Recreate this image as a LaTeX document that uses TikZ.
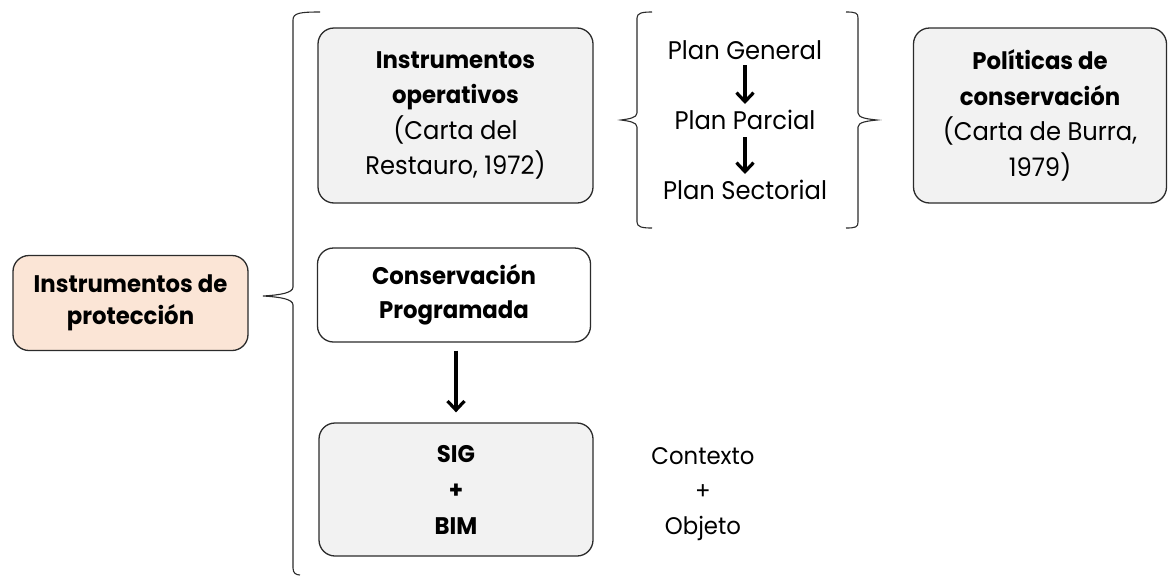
\documentclass[tikz,border=0pt]{standalone}
\usepackage{fontspec}
\setmainfont{Poppins}[FakeStretch=0.95]
\usetikzlibrary{arrows.meta}
\definecolor{edge}{HTML}{2B2B2B}
\definecolor{peach}{HTML}{FBE5D6}
\definecolor{lgray}{HTML}{F2F2F2}
\tikzset{
  box/.style={draw=edge, line width=1.3pt, rounded corners=16pt, align=center, inner sep=0pt, text=black},
  bigtxt/.style={font=\fontsize{24}{35.5}\selectfont},
  plantxt/.style={font=\fontsize{25.5}{28}\selectfont, inner sep=0pt},
  brace/.style={draw=edge, line width=1.1pt},
  flowarrow/.style={draw=black, line width=3.4pt, -{Straight Barb[length=9pt,width=17pt,line width=3.2pt]}},
}
\newcommand{\reg}[1]{{\fontsize{25.5}{35.5}\selectfont #1}}
\begin{document}
\begin{tikzpicture}[x=1pt,y=-1pt]
\useasboundingbox (0,0) rectangle (1171,576);
% boxes
\node[box, fill=peach, minimum width=235pt, minimum height=95pt, font=\fontsize{24}{32}\selectfont\bfseries] (prot) at (130.5,303) {Instrumentos de\\protección};
\node[box, fill=lgray, minimum width=275pt, minimum height=175pt, bigtxt] (oper) at (455.5,115.5) {\textbf{Instrumentos}\\\textbf{operativos}\\\reg{(Carta del}\\\reg{Restauro, 1972)}};
\node[box, fill=lgray, minimum width=253pt, minimum height=175pt, bigtxt] (polit) at (1040,115.5) {\textbf{Políticas de}\\\textbf{conservación}\\\reg{(Carta de Burra,}\\\reg{1979)}};
\node[box, fill=white, minimum width=273pt, minimum height=94pt, font=\fontsize{24}{34}\selectfont\bfseries] (cons) at (454,295) {Conservación\\Programada};
\node[box, fill=lgray, minimum width=274pt, minimum height=133pt, font=\fontsize{24}{36}\selectfont\bfseries] (sigbim) at (456,489.5) {SIG\\+\\BIM};
\node[align=center, font=\fontsize{24}{35}\selectfont, inner sep=0pt] (ctx) at (703,494) {Contexto\\+\\Objeto};
% plan list
\node[plantxt] (pg) at (745,50) {Plan General};
\node[plantxt] (pp) at (745,120) {Plan Parcial};
\node[plantxt] (ps) at (745,190) {Plan Sectorial};
\coordinate (a1) at (745,65);
\coordinate (a2) at (745,104);
\coordinate (b1) at (745,137);
\coordinate (b2) at (745,174);
\draw[flowarrow] (a1) -- (a2);
\draw[flowarrow] (b1) -- (b2);
\coordinate (c1) at ([yshift=-8pt]sigbim.north |- cons.south);
\coordinate (c2) at ([yshift=10pt]sigbim.north);
\draw[flowarrow] (c1) -- (c2);
% big brace
\coordinate (bt) at (320,12);
\coordinate (btip) at (263,296);
\coordinate (bb) at (300,575);
\draw[brace] (bt) .. controls (300,12) and (293,13) .. (293,20) -- (293,287)
  .. controls (293,293) and (280,295) .. (btip)
  .. controls (280,297) and (293,299) .. (293,305) -- (293,568)
  .. controls (293,573) and (296,575) .. (bb);
% middle left brace
\coordinate (mt) at (652,12);
\coordinate (mtip) at (621,120);
\coordinate (mb) at (652,228);
\draw[brace] (mt) .. controls (642,12) and (637,13) .. (637,18) -- (637,113)
  .. controls (637,118) and (628,119) .. (mtip)
  .. controls (628,121) and (637,122) .. (637,127) -- (637,222)
  .. controls (637,227) and (642,228) .. (mb);
% middle right brace
\coordinate (rt) at (846,12);
\coordinate (rtip) at (877,120);
\coordinate (rb) at (846,228);
\draw[brace] (rt) .. controls (856,12) and (858,13) .. (858,18) -- (858,113)
  .. controls (858,118) and (868,119) .. (rtip)
  .. controls (868,121) and (858,122) .. (858,127) -- (858,222)
  .. controls (858,227) and (856,228) .. (rb);
\end{tikzpicture}
\end{document}
